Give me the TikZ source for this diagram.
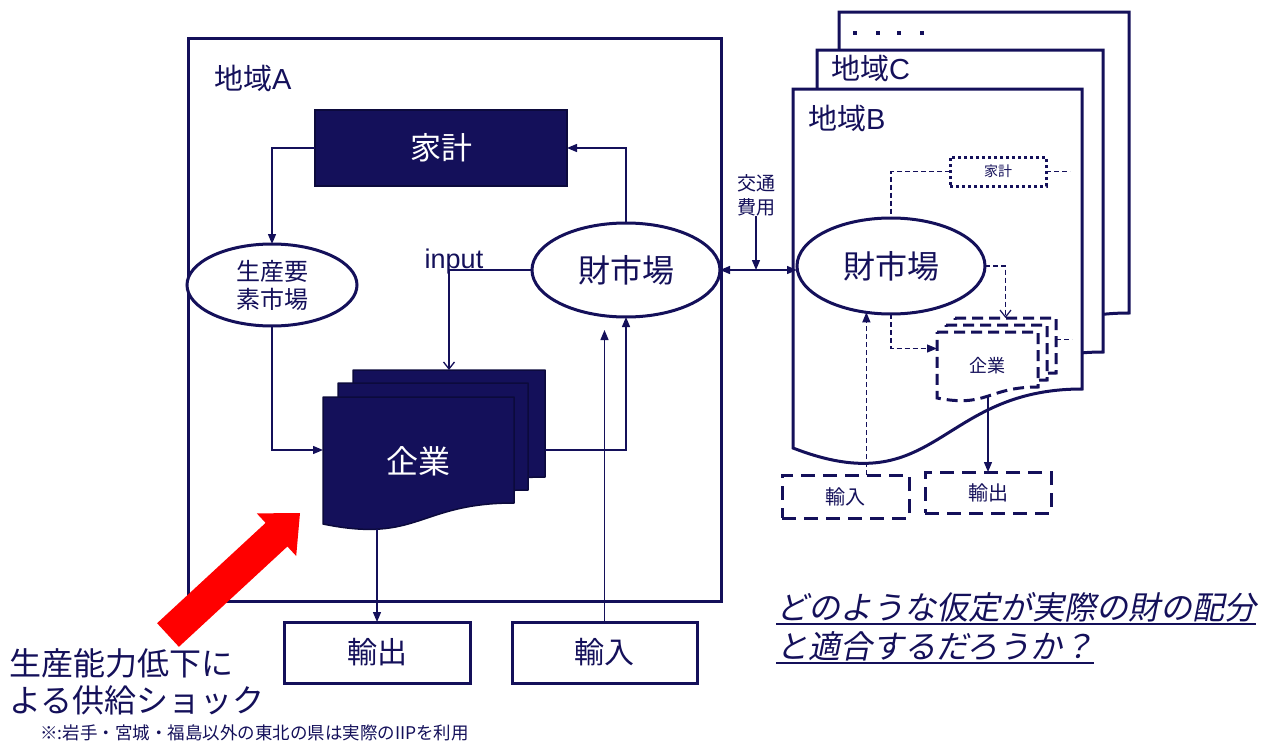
\documentclass[tikz,border=0pt]{standalone}
\usepackage{fontspec}
\setmainfont{Liberation Sans}
\newfontfamily\jp{Noto Sans CJK JP}
\newfontfamily\jpit{Noto Sans CJK JP}[FakeSlant=0.2]
\usetikzlibrary{arrows.meta,calc,shapes.geometric}
\definecolor{navy}{RGB}{20,16,90}
\definecolor{navyd}{RGB}{12,10,60}
\newcommand\fsz[2]{\fontsize{#1}{#2}\selectfont}
\begin{document}
\begin{tikzpicture}[x=1pt,y=-1pt,
  regionbox/.style={draw=navy,line width=3pt,fill=white,inner sep=0pt,outer sep=0pt},
  mkt/.style={ellipse,draw=navy,line width=3pt,fill=white,inner sep=0pt,outer sep=0pt,text=navy,font=\jp\fsz{32}{38}},
  solidbox/.style={draw=navy,line width=3pt,fill=white,inner sep=0pt,outer sep=0pt,text=navy,font=\jp\fsz{30}{36}},
  dashbox/.style={draw=navy,line width=3pt,dash pattern=on 14pt off 8pt,fill=white,inner sep=0pt,outer sep=0pt,text=navy,font=\jp\fsz{20}{24}},
  ghost/.style={inner sep=0pt,outer sep=0pt},
  darkpage/.style={fill=navy,draw=navyd,line width=1.5pt,line join=round},
  whitepage/.style={fill=white,draw=navy,line width=3pt,line join=miter},
  dashpage/.style={fill=white,draw=navy,line width=3pt,dash pattern=on 11pt off 6pt},
  conn/.style={draw=navy,line width=1.3pt},
  dconn/.style={draw=navy,line width=1.2pt,dash pattern=on 5pt off 3pt},
  tip/.style={-{Triangle[length=10pt,width=8pt]}},
  opentip/.style={-{Straight Barb[length=7pt,width=11pt]}},
  lbl/.style={text=navy,inner sep=0pt}
]
\useasboundingbox (0,0) rectangle (1262,744);
\fill[white] (0,0) rectangle (1262,744);

% ---------------- Region B stack (pages) ----------------
\draw[whitepage] (839,12) -- (1129,12) -- (1129,313) .. controls (984,313) and (984,428.6) .. (839,372) -- cycle;
\draw[whitepage] (817,50) -- (1103,50) -- (1103,352) .. controls (960,352) and (960,468) .. (817,411.5) -- cycle;
\draw[whitepage] (793,89) -- (1082,89) -- (1082,389) .. controls (937.5,389) and (937.5,504) .. (793,448) -- cycle;
\foreach \dx in {855,878,899,922} \fill[navy] (\dx-1.8,31.2) rectangle (\dx+1.8,34.8);
\node[lbl,anchor=west,font=\fsz{29}{34}] (Clab) at (831,68) {{\jp 地域}C};
\node[lbl,anchor=west,font=\fsz{29}{34}] (Blab) at (808,118) {{\jp 地域}B};

% ---------------- Region A ----------------
\node[regionbox,minimum width=533pt,minimum height=563pt] (A) at (454.5,319.5) {};
\node[lbl,anchor=west,font=\fsz{29}{34}] (Alab) at (214,78) {{\jp 地域}A};

\node[fill=navy,draw=navyd,line width=1.5pt,inner sep=0pt,outer sep=0pt,minimum width=252pt,minimum height=76pt,text=white,font=\jp\fsz{31}{36}] (Ahh) at (441,148) {家計};
\node[mkt,minimum width=170pt,minimum height=82pt,align=center,font=\jp\fsz{24}{28}] (Afac) at (272,285) {生産要\\素市場};
\node[mkt,minimum width=188pt,minimum height=94pt] (Amkt) at (626,270) {財市場};
\node[lbl,font=\fsz{27}{32}] (inp) at (454,262) {input};

% firm stack A
\draw[darkpage] (353,370) -- (545,370) -- (545,477) .. controls (449,477) and (449,518) .. (353,498) -- cycle;
\draw[darkpage] (338,383) -- (528,383) -- (528,490) .. controls (433,490) and (433,531) .. (338,511) -- cycle;
\draw[darkpage] (323,397) -- (514,397) -- (514,503) .. controls (418.5,503) and (418.5,543.7) .. (323,524) -- cycle;
\node[ghost,minimum width=192pt,minimum height=107pt] (Aback) at (449,423.5) {};
\node[ghost,minimum width=191pt,minimum height=106pt] (Afirm) at (418.5,450) {};
\node[text=white,inner sep=0pt,font=\jp\fsz{32}{38}] (AfirmT) at (418,461) {企業};
\coordinate (Awave) at (377,529);

\node[solidbox,minimum width=186pt,minimum height=61pt] (Aexp) at (377,652.5) {輸出};
\node[solidbox,minimum width=185pt,minimum height=61pt] (Aimp) at (604.5,652.5) {輸入};
\coordinate (AimpTip) at (604.5,330);

% connectors A
\draw[conn,tip] (Ahh.west) -| (Afac.north);
\draw[conn,tip] (Amkt.north) |- (Ahh.east);
\draw[conn,tip] (Afac.south) |- (Afirm.west);
\draw[conn,opentip] (Amkt.west) -| (Aback.north);
\draw[conn,tip] (Afirm.west -| Aback.east) -| (Amkt.south);
\draw[conn,tip] (Awave) -- (Aexp.north);
\draw[conn,tip] (Aimp.north) -- (AimpTip);

% ---------------- Region B contents ----------------
\node[draw=navy,line width=3pt,dash pattern=on 3pt off 3pt,fill=white,inner sep=0pt,outer sep=0pt,minimum width=96pt,minimum height=29pt,text=navy,font=\jp\fsz{14}{17}] (Bhh) at (998,171.5) {家計};
\coordinate (BhhEnd) at (1070,171.5);
\node[mkt,minimum width=188pt,minimum height=96pt] (Bmkt) at (891,266) {財市場};

\draw[dashpage] (955,318) -- (1056,318) -- (1056,373) .. controls (1005.5,373) and (1005.5,394) .. (955,384) -- cycle;
\draw[dashpage] (946,325) -- (1047,325) -- (1047,380) .. controls (996.5,380) and (996.5,401) .. (946,391) -- cycle;
\draw[dashpage] (937,332) -- (1038,332) -- (1038,387) .. controls (987.5,387) and (987.5,408) .. (937,398) -- cycle;
\node[ghost,minimum width=101pt,minimum height=55pt] (Bback) at (1005.5,345.5) {};
\node[ghost,minimum width=101pt,minimum height=55pt] (Bfirm) at (987.5,359.5) {};
\node[lbl,font=\jp\fsz{18}{22}] (BfirmT) at (987,366) {企業};
\coordinate (Bwave) at (988,396);

\node[dashbox,minimum width=127pt,minimum height=43pt] (Bimp) at (845.5,496.5) {輸入};
\node[dashbox,minimum width=126pt,minimum height=41pt] (Bexp) at (988,492.5) {輸出};

\draw[dconn] (Bhh.west) -| (Bmkt.north);
\draw[dconn] (Bhh.east) -- (BhhEnd);
\draw[dconn,opentip] (Bmkt.east) -| (Bback.north);
\draw[dconn,tip] (Bmkt.south) |- ($(Bfirm.west)+(0,-11)$);
\draw[conn,tip] (Bwave) -- (Bexp.north);
\draw[dconn,tip] (Bimp.north -| Bmkt.242) -- (Bmkt.242);
\draw[dconn] ($(Bback.east)+(0,-6)$) -- ++(16,0);

% ---------------- between regions ----------------
\node[lbl,align=center,font=\jp\fsz{19}{24}] (cost) at (756,195) {交通\\費用};
\draw[conn,{Triangle[length=10pt,width=8pt]}-{Triangle[length=10pt,width=8pt]}] (Amkt.east) -- (Amkt.east -| Bmkt.west);
\draw[conn,tip] (cost.south) -- (cost.south |- Amkt.east);

% ---------------- red arrow ----------------
\fill[red] (157.1,623.2) -- (265.6,522.9) -- (256.8,513.4) -- (300,513) -- (296.2,556.0) -- (287.4,546.5) -- (178.9,646.8) -- cycle;

% ---------------- texts ----------------
\node[lbl,anchor=west,font=\jp\fsz{32}{38}] (shock1) at (9,663) {生産能力低下に};
\node[lbl,anchor=west,font=\jp\fsz{32}{38}] (shock2) at (9,700) {よる供給ショック};
\node[lbl,anchor=west,font=\jp\fsz{17.5}{20}] (note) at (40,733) {※:岩手・宮城・福島以外の東北の県は実際のIIPを利用};

\node[lbl,anchor=west,font=\jpit\fsz{32}{38}] (q1) at (776,607) {どのような仮定が実際の財の配分};
\node[lbl,anchor=west,font=\jpit\fsz{32}{38}] (q2) at (776,646) {と適合するだろうか？};
\draw[navy,line width=2pt] ([yshift=-5pt]q1.base west) -- ([yshift=-5pt]q1.base east);
\draw[navy,line width=2pt] ([yshift=-5pt]q2.base west) -- ([yshift=-5pt]q2.base east);
\end{tikzpicture}
\end{document}
